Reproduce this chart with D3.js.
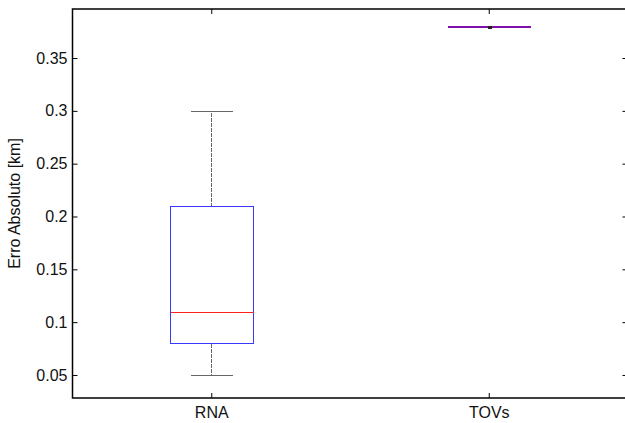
<!DOCTYPE html>
<html>
<head>
<meta charset="utf-8">
<script src="https://cdn.jsdelivr.net/npm/d3@7"></script>
<style>
  body { margin: 0; background: #fff; overflow: hidden; }
  svg { display: block; }
  text { font-family: "Liberation Sans", Arial, sans-serif; }
</style>
</head>
<body>
<svg id="chart" width="625" height="423"></svg>
<script>
// boxplot summary per group
const groups = ['RNA', 'TOVs']
const lowWhisker = [0.05, 0.38]
const q1 = [0.08, 0.38]
const median = [0.11, 0.38]
const q3 = [0.21, 0.38]
const highWhisker = [0.30, 0.38]
const yTicks = [0.05, 0.1, 0.15, 0.2, 0.25, 0.3, 0.35]

const width = 625, height = 423
const margin = {top: 9, right: -2.5, bottom: 25, left: 72.5}
const fontSize = 16

const svg = d3.select('#chart')

const x = d3.scaleLinear()
    .domain([0.5, 2.5])
    .range([margin.left, width - margin.right])
const y = d3.scaleLinear()
    .domain([0.0282, 0.3964])
    .range([height - margin.bottom, margin.top])

const x0 = margin.left, x1 = width - margin.right
const y0 = height - margin.bottom, y1 = margin.top

// y ticks, inside on both sides
const yAxisL = d3.axisLeft(y).tickValues(yTicks).tickSize(-5).tickPadding(5)
    .tickFormat(d => String(+d.toFixed(2)))
const gl = svg.append('g').attr('transform', `translate(${x0},0)`).call(yAxisL)
gl.select('.domain').remove()
gl.selectAll('text').attr('font-size', fontSize).attr('fill', '#111')

const gr = svg.append('g').attr('transform', `translate(${x1},0)`)
    .call(d3.axisRight(y).tickValues(yTicks).tickSize(-5).tickFormat(''))
gr.select('.domain').remove()

// x ticks top and bottom
const xAxisB = d3.axisBottom(x).tickValues([1, 2]).tickSize(-5).tickPadding(9)
    .tickFormat((d, i) => groups[i])
const gb = svg.append('g').attr('transform', `translate(0,${y0})`).call(xAxisB)
gb.select('.domain').remove()
gb.selectAll('text').attr('font-size', fontSize).attr('fill', '#111')

const gt = svg.append('g').attr('transform', `translate(0,${y1})`)
    .call(d3.axisTop(x).tickValues([1, 2]).tickSize(-5).tickFormat(''))
gt.select('.domain').remove()

// frame (right side falls past the picture edge)
svg.append('path')
    .attr('d', `M${width},${y1}H${x0}V${y0}H${width}`)
    .attr('fill', 'none').attr('stroke', '#000').attr('stroke-width', 1.5)

// y label
svg.append('text')
    .attr('transform', `translate(20,${(y0 + y1) / 2}) rotate(-90)`)
    .attr('text-anchor', 'middle')
    .attr('font-size', fontSize)
    .attr('fill', '#111')
    .text('Erro Absoluto [km]')

// boxes
const boxHalf = 0.15, capHalf = 0.075
const g = svg.append('g').attr('shape-rendering', 'crispEdges')
groups.forEach((name, i) => {
    const px = v => Math.round(x(v)) + 0.5
    const py = v => Math.round(y(v)) + 0.5
    const cx = px(i + 1)
    const bl = px(i + 1 - boxHalf), br = px(i + 1 + boxHalf)
    const cl = px(i + 1 - capHalf), cr = px(i + 1 + capHalf)
    const grey = '#666'
    // whiskers
    g.append('line').attr('x1', cx).attr('x2', cx)
        .attr('y1', py(q3[i])).attr('y2', py(highWhisker[i]))
        .attr('stroke', grey).attr('stroke-dasharray', '4,1')
    g.append('line').attr('x1', cx).attr('x2', cx)
        .attr('y1', py(q1[i])).attr('y2', py(lowWhisker[i]))
        .attr('stroke', grey).attr('stroke-dasharray', '4,1')
    g.append('line').attr('x1', cl).attr('x2', cr)
        .attr('y1', py(highWhisker[i])).attr('y2', py(highWhisker[i]))
        .attr('stroke', grey)
    g.append('line').attr('x1', cl).attr('x2', cr)
        .attr('y1', py(lowWhisker[i])).attr('y2', py(lowWhisker[i]))
        .attr('stroke', grey)
    // box
    g.append('rect')
        .attr('x', bl).attr('y', py(q3[i]))
        .attr('width', br - bl).attr('height', Math.max(0, py(q1[i]) - py(q3[i])))
        .attr('fill', 'none').attr('stroke', '#3838ff')
    // median
    const collapsed = q1[i] === q3[i]
    g.append('line').attr('x1', bl).attr('x2', br)
        .attr('y1', py(median[i])).attr('y2', py(median[i]))
        .attr('stroke', collapsed ? '#8010a8' : '#ff2020')
        .attr('stroke-width', collapsed ? 2 : 1)
    if (collapsed) {
        g.append('rect').attr('x', cx - 2).attr('y', py(median[i]) - 1)
            .attr('width', 4).attr('height', 3).attr('fill', '#222')
    }
})
</script>
</body>
</html>
